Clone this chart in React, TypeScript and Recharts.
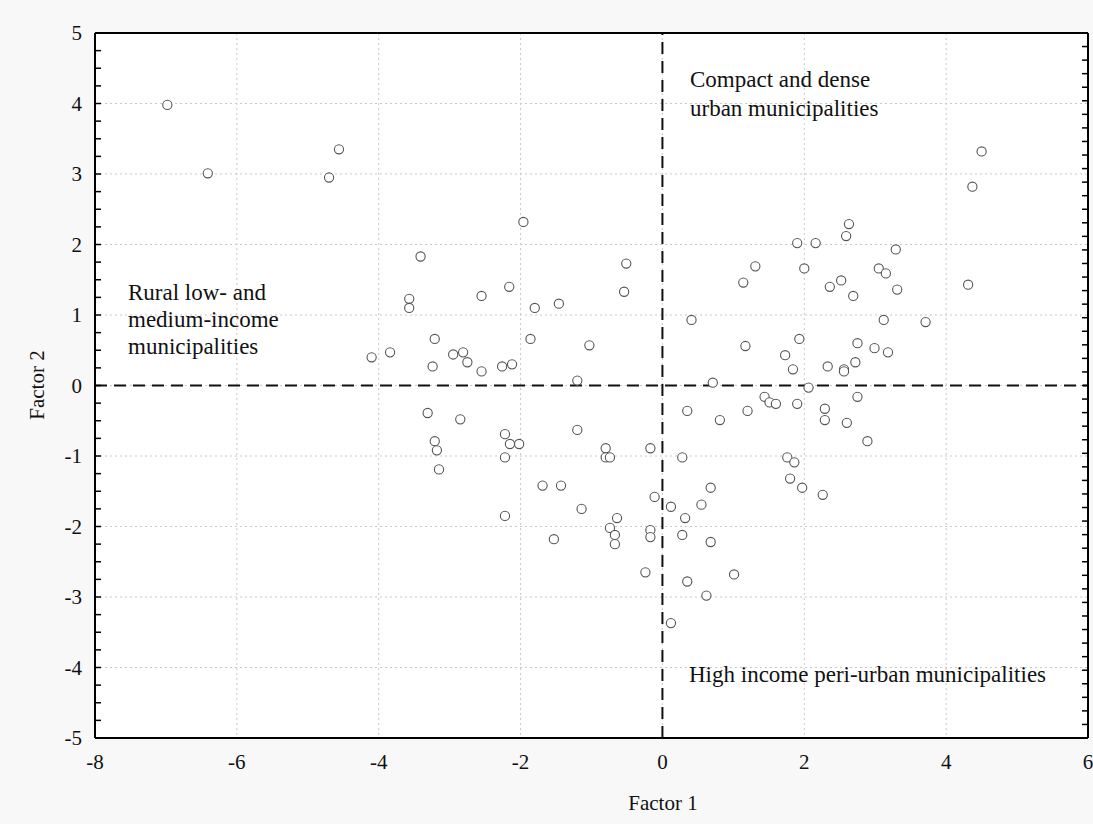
import React from 'react';
import {
  ScatterChart, Scatter, XAxis, YAxis, CartesianGrid, ReferenceLine
} from 'recharts';

// Factor scores, one point per municipality
const factor1 = [
  -6.98, -6.41, -4.56, -4.70, -3.41, -1.96, -0.51, -0.54, -2.16, -2.55,
  -3.57, -3.57, -1.80, -1.46, -3.21, -1.86, -1.03, -3.84, -2.95, -2.81,
  -2.75, -3.24, -2.55, -2.26, -2.12, -1.20, -4.10,
  0.41, 4.50, 4.37, 2.63, 2.59, 1.90, 2.16, 3.29, 1.31, 2.00,
  3.05, 3.15, 1.14, 2.52, 2.36, 3.31, 4.31, 2.69, 3.12, 3.71,
  1.17, 1.93, 2.75, 2.99, 3.18, 1.73, 1.84, 2.33, 2.56, 2.56,
  2.72, 0.71,
  2.06, 1.44, 1.51, 1.60, 1.90, 2.75, 2.29, 2.29, 2.60, 2.89,
  0.35, 0.81, 1.20, 0.28, 1.76, 1.86, 1.80, 1.97, 2.26, 0.68,
  0.12, 0.55, 0.32, 0.28, 0.68, 0.35, 1.01, 0.62, 0.12,
  -0.17, -0.11, -0.17, -0.17, -0.24, -3.31, -2.85, -3.21, -3.18, -3.15,
  -2.22, -2.15, -2.02, -2.22, -1.20, -0.80, -0.80, -0.74, -1.69, -1.43,
  -1.14, -0.64, -0.74, -0.67, -0.67, -2.22, -1.53,
];

const factor2 = [
  3.98, 3.01, 3.35, 2.95, 1.83, 2.32, 1.73, 1.33, 1.40, 1.27,
  1.23, 1.10, 1.10, 1.16, 0.66, 0.66, 0.57, 0.47, 0.44, 0.47,
  0.33, 0.27, 0.20, 0.27, 0.30, 0.07, 0.40,
  0.93, 3.32, 2.82, 2.29, 2.12, 2.02, 2.02, 1.93, 1.69, 1.66,
  1.66, 1.59, 1.46, 1.49, 1.40, 1.36, 1.43, 1.27, 0.93, 0.90,
  0.56, 0.66, 0.60, 0.53, 0.47, 0.43, 0.23, 0.27, 0.23, 0.20,
  0.33, 0.04,
  -0.03, -0.16, -0.24, -0.26, -0.26, -0.16, -0.33, -0.49, -0.53, -0.79,
  -0.36, -0.49, -0.36, -1.02, -1.02, -1.09, -1.32, -1.45, -1.55, -1.45,
  -1.72, -1.69, -1.88, -2.12, -2.22, -2.78, -2.68, -2.98, -3.37,
  -0.89, -1.58, -2.05, -2.15, -2.65, -0.39, -0.48, -0.79, -0.92, -1.19,
  -0.69, -0.83, -0.83, -1.02, -0.63, -0.89, -1.02, -1.02, -1.42, -1.42,
  -1.75, -1.88, -2.02, -2.12, -2.25, -1.85, -2.18,
];

const xTicks = [-8, -6, -4, -2, 0, 2, 4, 6];
const yTicks = [-5, -4, -3, -2, -1, 0, 1, 2, 3, 4, 5];
const xMinorTicks = [-7, -6, -5, -4, -3, -2, -1, 0, 1, 2, 3, 4, 5];
const yMinorTicks = Array.from({ length: 39 }, (_, i) => -4.75 + i * 0.25);
// the top and right frame carry their own (unlabelled) scales
const topTicks = Array.from({ length: 19 }, (_, i) => i + 1);
const rightTicks = Array.from({ length: 51 }, (_, i) => i - 25);

const points = factor1.map((x, i) => ({ x, y: factor2[i] }));

const serif = '"Liberation Serif", "DejaVu Serif", serif';
const tickStyle = { fontFamily: serif, fontSize: 21, fill: '#111' };
const frame = { stroke: '#000', strokeWidth: 2 };
const minorLine = { stroke: '#000', strokeWidth: 1.5 };
const noLabel = () => <g />;

const OpenCircle = (props: any) => {
  const { cx, cy } = props;
  if (cx == null || cy == null) return null;
  return <circle cx={cx} cy={cy} r={4.6} fill="#fff" stroke="#555" strokeWidth={1.1} />;
};

const note: React.CSSProperties = {
  position: 'absolute',
  fontFamily: serif,
  fontSize: 23,
  lineHeight: '29px',
  color: '#111',
  whiteSpace: 'nowrap',
};

export default function App() {
  return (
    <div style={{ position: 'absolute', left: 0, top: 0, width: 1093, height: 824, background: '#f8f8f8' }}>
      <ScatterChart width={1093} height={824} margin={{ top: 33, right: 5, bottom: 85, left: 94 }}>
        <CartesianGrid stroke="#c8c8c8" strokeDasharray="2 3" fill="#ffffff" />

        <XAxis
          type="number" dataKey="x" domain={[-8, 6]} ticks={xTicks} allowDataOverflow
          height={1} tickLine={false} tickSize={0} tickMargin={16}
          axisLine={frame} tick={tickStyle} interval={0}
        />
        <XAxis
          xAxisId="xminor" type="number" domain={[-8, 6]} ticks={xMinorTicks} interval={0} allowDataOverflow
          mirror height={1} tick={noLabel} tickSize={6} tickLine={minorLine} axisLine={false}
        />
        <XAxis
          xAxisId="top" orientation="top" type="number" domain={[0, 20]} ticks={topTicks} interval={0} allowDataOverflow
          mirror height={1} tick={noLabel} tickSize={6} tickLine={minorLine} axisLine={frame}
        />

        <YAxis
          type="number" dataKey="y" domain={[-5, 5]} ticks={yTicks} allowDataOverflow
          width={1} tickLine={false} tickSize={0} tickMargin={13}
          axisLine={frame} tick={tickStyle} interval={0}
        />
        <YAxis
          yAxisId="yminor" type="number" domain={[-5, 5]} ticks={yMinorTicks} interval={0} allowDataOverflow
          mirror width={1} tick={noLabel} tickSize={6} tickLine={minorLine} axisLine={false}
        />
        <YAxis
          yAxisId="right" orientation="right" type="number" domain={[-26, 26]} ticks={rightTicks} interval={0} allowDataOverflow
          mirror width={1} tick={noLabel} tickSize={6} tickLine={minorLine} axisLine={frame}
        />

        <ReferenceLine x={0} stroke="#111" strokeWidth={2} strokeDasharray="12 7" />
        <ReferenceLine y={0} stroke="#111" strokeWidth={2} strokeDasharray="12 7" />

        <Scatter data={points} shape={OpenCircle} isAnimationActive={false} />
      </ScatterChart>

      <div style={{ ...note, left: 690, top: 65 }}>
        Compact and dense<br />urban municipalities
      </div>
      <div style={{ ...note, left: 128, top: 279, lineHeight: '27px' }}>
        Rural low- and<br />medium-income<br />municipalities
      </div>
      <div style={{ ...note, left: 689, top: 660 }}>
        High income peri-urban municipalities
      </div>

      <div style={{ ...note, fontSize: 21, left: 663, top: 803, transform: 'translate(-50%, -50%)' }}>
        Factor 1
      </div>
      <div style={{ ...note, fontSize: 21, left: 37, top: 385, transform: 'translate(-50%, -50%) rotate(-90deg)' }}>
        Factor 2
      </div>
    </div>
  );
}
